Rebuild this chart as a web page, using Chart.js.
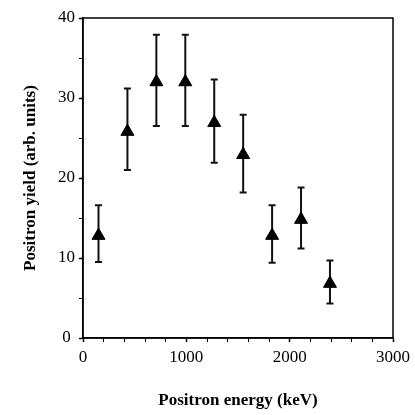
<!DOCTYPE html>
<html>
<head>
<meta charset="utf-8">
<script src="https://cdn.jsdelivr.net/npm/chart.js@4/dist/chart.umd.min.js"></script>
<style>
  html, body { margin: 0; padding: 0; background: #fff; }
  #wrap { width: 415px; height: 415px; }
</style>
</head>
<body>
<div id="wrap"><canvas id="c" width="415" height="415"></canvas></div>
<script>
// Data
const energies = [150, 430, 710, 990, 1270, 1550, 1830, 2110, 2390];   // keV
const yieldVals = [12.8, 25.8, 32, 32, 26.9, 22.9, 12.8, 14.8, 6.8];     // arb. units
const errUpper = [16.6, 31.2, 37.9, 37.9, 32.3, 27.9, 16.6, 18.8, 9.7];
const errLower = [9.5, 21.0, 26.5, 26.5, 21.9, 18.2, 9.4, 11.2, 4.3];
const xTitle = 'Positron energy (keV)';
const yTitle = 'Positron yield (arb. units)';

const FONT = "'Liberation Serif', 'Times New Roman', Times, serif";

const errorBars = {
  id: 'errorBars',
  beforeDatasetsDraw(chart) {
    const {ctx, scales: {x, y}} = chart;
    ctx.save();
    ctx.strokeStyle = '#111';
    ctx.lineWidth = 2;
    const cap = 3.5;
    energies.forEach((e, i) => {
      const px = x.getPixelForValue(e);
      const pt = y.getPixelForValue(errUpper[i]);
      const pb = y.getPixelForValue(errLower[i]);
      ctx.beginPath();
      ctx.moveTo(px, pt); ctx.lineTo(px, pb);
      ctx.moveTo(px - cap, pt); ctx.lineTo(px + cap, pt);
      ctx.moveTo(px - cap, pb); ctx.lineTo(px + cap, pb);
      ctx.stroke();
    });
    ctx.restore();
  }
};

const frame = {
  id: 'frame',
  afterDraw(chart) {
    const {ctx, chartArea: a} = chart;
    ctx.save();
    ctx.strokeStyle = '#000';
    ctx.lineWidth = 1.5;
    ctx.strokeRect(a.left, a.top, a.right - a.left, a.bottom - a.top);
    ctx.restore();
  }
};

new Chart(document.getElementById('c'), {
  type: 'scatter',
  data: {
    datasets: [{
      data: energies.map((e, i) => ({x: e, y: yieldVals[i]})),
      pointStyle: 'triangle',
      pointRadius: 7.5,
      backgroundColor: '#000',
      borderColor: '#000',
      borderWidth: 1,
      showLine: false
    }]
  },
  options: {
    responsive: false,
    animation: false,
    layout: { padding: { top: 18, right: 19, left: 0, bottom: 0 } },
    plugins: { legend: { display: false }, tooltip: { enabled: false } },
    scales: {
      x: {
        type: 'linear', min: 0, max: 3000,
        afterFit(s) { s.height = 77; },
        border: { display: true, color: '#000', width: 1.5 },
        grid: {
          drawOnChartArea: false, drawTicks: true, tickLength: 4,
          tickColor: '#000',
          tickWidth: (c) => (c.tick && c.tick.value % 1000 === 0 ? 1.5 : 1)
        },
        ticks: {
          stepSize: 200, autoSkip: false, maxRotation: 0, padding: 5,
          color: '#000', font: { family: FONT, size: 17 },
          callback: (v) => (v % 1000 === 0 ? v : '')
        },
        title: {
          display: true, text: xTitle, color: '#000',
          font: { family: FONT, size: 17, weight: 'bold' },
          padding: { top: 4, bottom: 4 }
        }
      },
      y: {
        type: 'linear', min: 0, max: 40,
        afterFit(s) { s.width = 83; },
        border: { display: true, color: '#000', width: 1.5 },
        grid: {
          drawOnChartArea: false, drawTicks: true, tickLength: 4,
          tickColor: '#000',
          tickWidth: (c) => (c.tick && c.tick.value % 10 === 0 ? 1.5 : 1)
        },
        ticks: {
          stepSize: 5, autoSkip: false, padding: 4, crossAlign: 'center',
          color: '#000', font: { family: FONT, size: 17 },
          callback: (v) => (v % 10 === 0 ? v : '')
        },
        title: {
          display: true, text: yTitle, color: '#000',
          font: { family: FONT, size: 17, weight: 'bold' },
          padding: { top: 20, bottom: 0 }
        }
      }
    }
  },
  plugins: [errorBars, frame]
});
</script>
</body>
</html>
